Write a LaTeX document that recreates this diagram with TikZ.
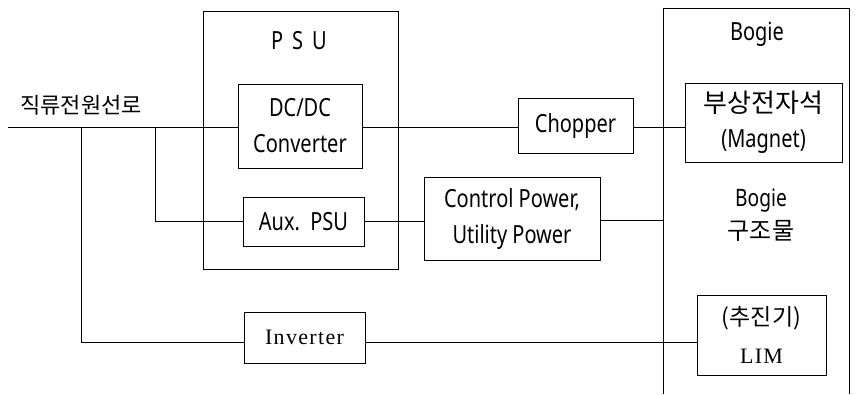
\documentclass[tikz,border=0pt]{standalone}
\usepackage{fontspec}
\setmainfont{Liberation Serif}
\newfontfamily\kr{Noto Sans CJK KR}
\newfontfamily\lat[FakeStretch=0.8]{Noto Sans}
\newfontfamily\ser[LetterSpace=6]{Liberation Serif}
\begin{document}
\begin{tikzpicture}[x=1pt,y=-1pt,
  box/.style={draw, line width=0.9pt, inner sep=0pt, align=center},
  lt/.style={font=\lat\fontsize{25}{36}\selectfont},
  wire/.style={draw, line width=0.8pt}]
\useasboundingbox (0,0) rectangle (858,394);

% outer containers
\node[box, minimum width=195pt, minimum height=258pt] (psu) at (300.5,140) {};
\node[lt] (psul) at (299,41) {P\hspace{9pt}S\hspace{9pt}U};

\coordinate (bgBL) at (663,394);
\coordinate (bgTL) at (663,8);
\coordinate (bgTR) at (849,8);
\coordinate (bgBR) at (849,394);
\draw[line width=0.9pt] (bgBL) -- (bgTL) -- (bgTR) -- (bgBR);
\node[font=\lat\fontsize{25}{25}\selectfont] (bgl) at (757,34) {Bogie};
\node[align=center, font=\fontsize{24}{33}\selectfont] (bgs) at (761,215) {{\lat Bogie}\\{\kr 구조물}};

% label of the supply line
\node[font=\kr\fontsize{22}{22}\selectfont] (dcl) at (81,105) {직류전원선로};

% boxes
\node[box, lt, minimum width=124pt, minimum height=84pt] (dcdc) at (300,126) {DC/DC\\Converter};
\node[box, lt, minimum width=121pt, minimum height=49pt] (aux) at (303.5,221.5) {Aux.\ \ PSU};
\node[box, minimum width=121pt, minimum height=51pt, font=\ser\fontsize{22}{22}\selectfont] (inv) at (304.5,337.5) {Inverter};
\node[box, lt, minimum width=115pt, minimum height=55pt] (chop) at (575.5,125.5) {Chopper};
\node[box, lt, minimum width=176pt, minimum height=83pt] (ctrl) at (512,218.5) {Control Power,\\Utility Power};
\node[box, minimum width=157pt, minimum height=79pt, font=\fontsize{25}{35}\selectfont] (mag) at (763.5,122.5) {{\kr\fontsize{26}{35}\selectfont 부상전자석}\\{\lat (Magnet)}};
\node[box, minimum width=129pt, minimum height=80pt, font=\fontsize{23}{38}\selectfont] (lim) at (761.5,335) {{\kr (추진기)}\\{\ser\fontsize{22}{38}\selectfont LIM}};

% connectors
\coordinate (src) at (8,127);
\coordinate (j1) at (81,127);
\coordinate (j2) at (155,127);
\coordinate (invy) at (0,342);
\coordinate (bgin) at (663,220);

\draw[wire] (src) -- (src -| dcdc.west);
\draw[wire] (j1) |- (inv.west |- invy);
\draw[wire] (j2) |- (aux.west);
\draw[wire] (dcdc.east |- src) -- (chop.west |- src);
\draw[wire] (chop.east |- src) -- (mag.west |- src);
\draw[wire] (aux.east) -- (aux.east -| ctrl.west);
\draw[wire] (ctrl.east |- bgin) -- (bgin);
\draw[wire] (inv.east |- invy) -- (lim.west |- invy);
\end{tikzpicture}
\end{document}
